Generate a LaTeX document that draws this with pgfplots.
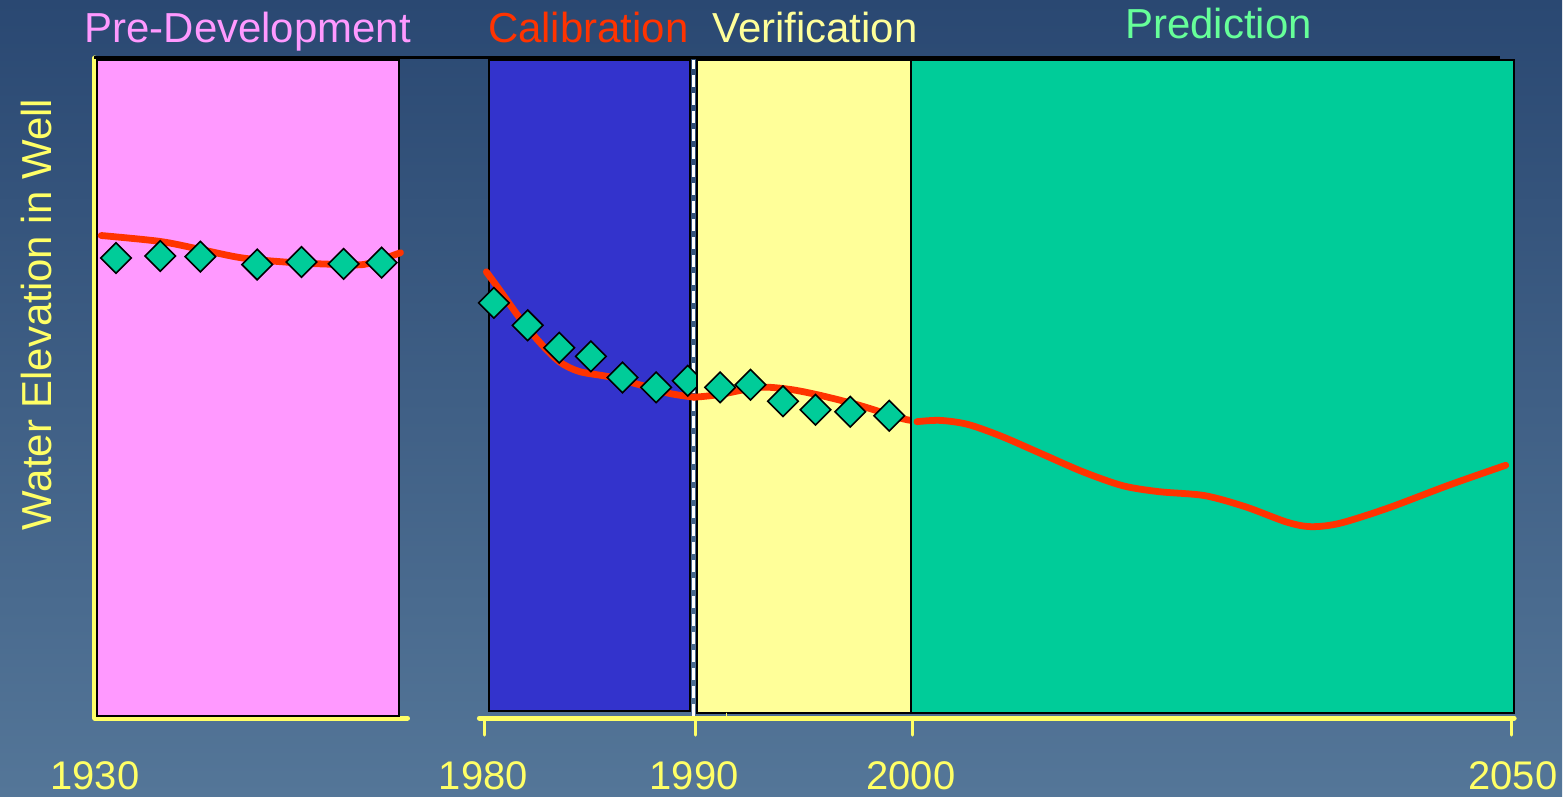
\documentclass[border=0pt]{standalone}
\usepackage{pgfplots}
\pgfplotsset{compat=1.18}
\usepackage{fontspec}
\setmainfont{Liberation Sans}
\definecolor{bgtop}{HTML}{2A4872}
\definecolor{bgbot}{HTML}{547698}
\definecolor{axyellow}{HTML}{FFFF66}
\definecolor{pinkfill}{HTML}{FF99FF}
\definecolor{bluefill}{HTML}{3333CC}
\definecolor{yellowfill}{HTML}{FFFF99}
\definecolor{greenfill}{HTML}{00CC99}
\definecolor{redline}{HTML}{FF3300}
\definecolor{titlegreen}{HTML}{66FF99}
\tikzset{tck/.style={draw=axyellow, line width=1.5pt, line cap=round}}
\pgfplotsset{
  panel/.style={
    scale only axis, anchor=south west,
    ymin=0, ymax=100, height=330.5pt, ytick=\empty,
    axis x line=bottom,
  },
  finish/.style={
    axis line style={-, draw=axyellow, line width=2.5pt, line cap=round},
    x axis line style={-}, y axis line style={-},
    major tick length=0pt,
    xticklabel style={text=axyellow, font=\fontsize{20}{24}\selectfont, yshift=-18pt},
    clip=false,
  },
  obs/.style={only marks, mark=square*, mark size=5.4pt,
    mark options={rotate=45, fill=greenfill, draw=black, line width=0.8pt}},
  sim/.style={mark=none, smooth, draw=redline, line width=3.4pt, line cap=round},
}
\begin{document}
\begin{tikzpicture}
\shade[top color=bgtop, bottom color=bgbot] (0,0) rectangle (782pt,398.5pt);

% Pre-development panel
\begin{axis}[panel, at={(47.5pt,39pt)}, width=156.5pt,
  xmin=1930, xmax=1944.83, axis y line=left,
  xtick={1930}, xticklabels={1930}, finish]
  \draw[fill=pinkfill, draw=black, line width=1pt] (axis cs:1930.1,0.3) rectangle (axis cs:1944.45,99.7);
  \addplot[obs] coordinates {(1931.0,69.7) (1933.1,70.0) (1935.0,69.9) (1937.7,68.7) (1939.8,69.1) (1941.8,68.8) (1943.6,69.0)};
  \addplot[sim] coordinates {(1930.3,73.1) (1933.1,72.2) (1935.0,71.0) (1937.0,69.7) (1939.4,69.0) (1941.8,68.7) (1942.9,68.8) (1944.5,70.5)};
\end{axis}

% Calibration 1980-1990
\begin{axis}[panel, at={(240pt,39pt)}, width=107.5pt,
  xmin=1979.81, xmax=1990, axis y line=none,
  xtick={1980}, xticklabels={1980}, finish]
  \draw[fill=bluefill, draw=black, line width=1pt] (axis cs:1980.28,1.06) rectangle (axis cs:1989.81,99.7);
  \draw[white, line width=1.5pt, dash pattern=on 6pt off 3pt] (axis cs:1989.97,0.3) -- (axis cs:1989.97,99.7);
  \addplot[obs] coordinates {(1980.5,62.9) (1982.1,59.5) (1983.6,56.1) (1985.1,54.8) (1986.6,51.6) (1988.2,50.1) (1989.7,51.1)};
  \addplot[sim] coordinates {(1980.14,67.6) (1980.76,64.9) (1981.7,60.7) (1982.65,57.0) (1983.6,54.0) (1984.55,52.5) (1985.97,51.7) (1987.4,50.5) (1988.8,49.2) (1990,48.6)};
\end{axis}

% Verification 1990-2000
\begin{axis}[panel, at={(347.5pt,39pt)}, width=108.5pt,
  xmin=1990, xmax=2000, axis y line=none,
  xtick={1990}, xticklabels={1990}, finish]
  \draw[fill=yellowfill, draw=black, line width=1pt] (axis cs:1990.14,0.76) rectangle (axis cs:2000,99.7);
  \draw[tck, line width=0.75pt] (axis cs:1991.5,0) -- (axis cs:1991.5,0.7);
  \addplot[obs] coordinates {(1991.2,50.1) (1992.6,50.5) (1994.1,48.0) (1995.6,46.7) (1997.2,46.4) (1999.0,45.8)};
  \addplot[sim] coordinates {(1990,48.6) (1991.15,49.0) (1993.0,50.1) (1994.4,49.8) (1995.8,48.9) (1997.6,47.4) (1999.45,45.5) (2000,45.1)};
\end{axis}

% Prediction 2000-2050
\begin{axis}[panel, at={(456pt,39pt)}, width=302pt,
  xmin=2000, xmax=2050.1, axis y line=none,
  xtick={2000,2050}, xticklabels={2000,2050}, finish]
  \draw[fill=greenfill, draw=black, line width=1pt] (axis cs:2000,0.76) rectangle (axis cs:2050.1,99.7);
  \addplot[sim] coordinates {(2000.5,44.9) (2002.4,45.1) (2004.7,44.5) (2007.5,42.7) (2010.9,40.0) (2014.3,37.3) (2017.6,35.2) (2020.6,34.3) (2024.4,33.7) (2027.8,32.0) (2031.2,29.7) (2033.2,29.0) (2035.6,29.5) (2039.6,31.8) (2044.7,35.3) (2049.4,38.3)};
\end{axis}

% outward tick marks on the right time axis
\foreach \tx in {242.5pt,348pt,457pt,756.5pt}
  \draw[tck] (\tx,38pt) -- (\tx,30.5pt);

\draw[black, line width=1.5pt] (47pt,369.5pt) -- (751pt,369.5pt);

\node[anchor=base, text=pinkfill, font=\fontsize{21}{25}\selectfont, inner sep=0pt] at (124pt,377pt) {Pre-Development};
\node[anchor=base, text=redline, font=\fontsize{21}{25}\selectfont, inner sep=0pt] at (294.5pt,377pt) {Calibration};
\node[anchor=base, text=yellowfill, font=\fontsize{21}{25}\selectfont, inner sep=0pt] at (408pt,377pt) {Verification};
\node[anchor=base, text=titlegreen, font=\fontsize{21}{25}\selectfont, inner sep=0pt] at (610pt,379pt) {Prediction};
\node[rotate=90, anchor=base, text=axyellow, font=\fontsize{21}{25}\selectfont, inner sep=0pt] at (26pt,241pt) {Water Elevation in Well};
\end{tikzpicture}
\end{document}
